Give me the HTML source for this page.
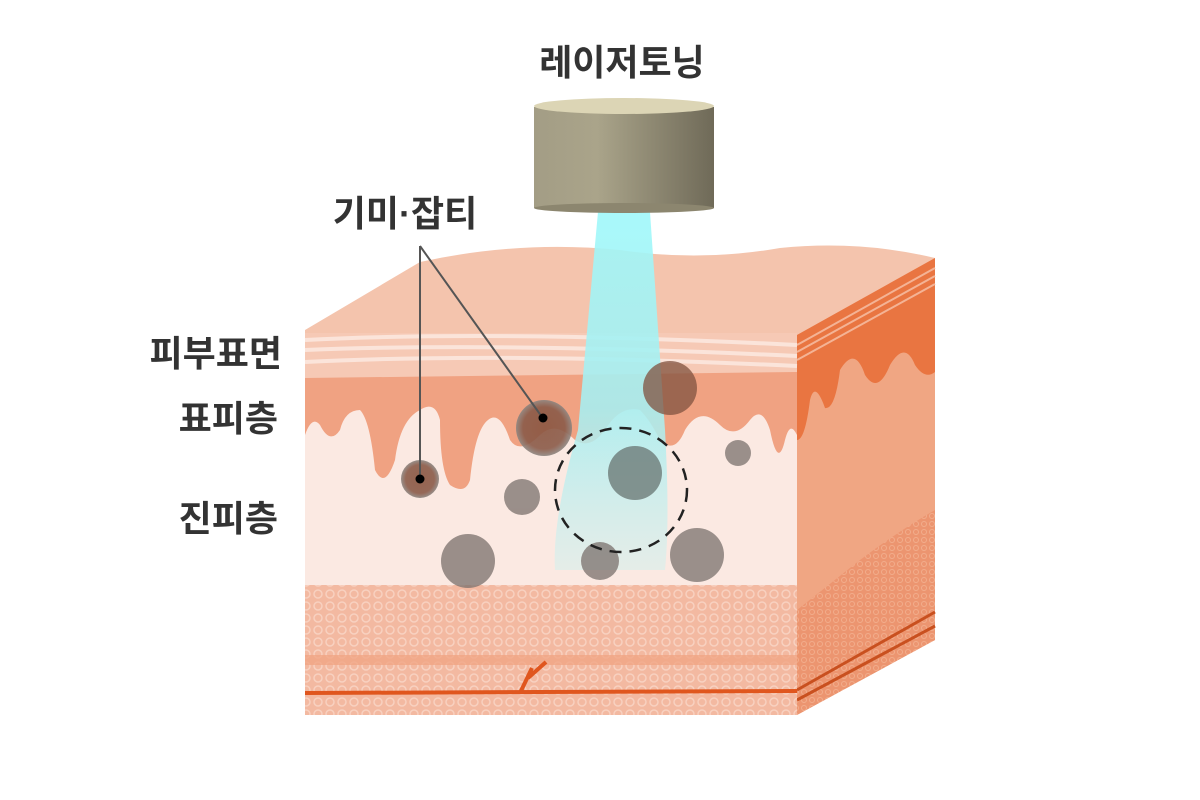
<!DOCTYPE html>
<html><head><meta charset="utf-8"><style>
body{margin:0;background:#fff;width:1200px;height:800px;overflow:hidden}
svg{display:block}
text{font-family:"Liberation Sans","Noto Sans CJK KR",sans-serif;font-weight:bold;fill:#333;font-size:36px}
</style></head><body>
<svg width="1200" height="800" viewBox="0 0 1200 800">
<defs>
<linearGradient id="cyl" x1="0" x2="1"><stop offset="0" stop-color="#a39d85"/><stop offset="0.35" stop-color="#aaa48a"/><stop offset="1" stop-color="#6f6a58"/></linearGradient>
<linearGradient id="beam" x1="0" y1="0" x2="0" y2="1"><stop offset="0" stop-color="#9ff8fa"/><stop offset="0.55" stop-color="#a8eef0"/><stop offset="1" stop-color="#d8efec" stop-opacity="0.7"/></linearGradient>
<pattern id="pat" width="12" height="12" patternUnits="userSpaceOnUse"><rect width="12" height="12" fill="#f3b9a1"/><circle cx="6" cy="6" r="4" fill="none" stroke="#f8d1c0" stroke-width="1.5"/></pattern>
<pattern id="pat2" width="8" height="8" patternUnits="userSpaceOnUse"><rect width="8" height="8" fill="#ec9570"/><circle cx="4" cy="4" r="2.5" fill="none" stroke="#f2ad8c" stroke-width="1"/></pattern>
<radialGradient id="spot"><stop offset="0" stop-color="#8a5540"/><stop offset="0.75" stop-color="#8a5a48"/><stop offset="1" stop-color="#8d8580"/></radialGradient>
</defs>
<!-- labels -->
<text x="622" y="75" text-anchor="middle">레이저토닝</text>
<text x="405" y="226" text-anchor="middle">기미·잡티</text>
<text x="282" y="366" text-anchor="end">피부표면</text>
<text x="278" y="431" text-anchor="end">표피층</text>
<text x="278" y="531" text-anchor="end">진피층</text>
<!-- top surface -->
<path d="M305 330 L420 262 Q520 240 620 250 Q700 262 780 248 Q860 240 935 258 L935 300 L797 335 L305 335 Z" fill="#f4c4ad"/>
<!-- right face -->
<path d="M797 335 L935 258 L935 640 L797 715 Z" fill="#f0a683"/>
<path d="M797 335 L935 258 L935 300 L935 372 Q925 380 915 365 Q905 340 890 365 Q878 395 865 375 Q855 345 840 370 Q835 410 825 408 Q815 380 810 400 Q805 440 797 440 Z" fill="#e97541"/>
<path d="M797 345 L935 268 M797 352 L935 276 M797 360 L935 284" stroke="#f4b395" stroke-width="2" fill="none"/>
<path d="M797 610 L860 560 Q900 530 935 510 L935 640 L797 715 Z" fill="url(#pat2)"/>
<path d="M797 690 L935 612 M797 700 L935 626" stroke="#c9501f" stroke-width="3" fill="none"/>
<!-- front face -->
<rect x="305" y="333" width="492" height="382" fill="#fbe9e2"/>
<rect x="305" y="333" width="492" height="45" fill="#f6c9b5"/>
<path d="M305 340 Q500 330 797 345 M305 350 Q500 342 797 356 M305 362 Q500 352 797 366" stroke="#fbe4da" stroke-width="4" fill="none"/>
<path d="M305 378 L797 372 L797 435 Q790 420 785 440 Q778 470 770 430 Q762 405 750 420 Q735 440 720 425 Q700 405 685 430 Q675 455 660 440 Q650 420 640 410 Q620 405 605 430 Q590 450 575 440 Q555 420 540 435 Q520 455 510 440 Q500 410 488 420 Q475 430 470 480 Q465 495 450 485 Q440 470 440 420 Q435 400 420 410 Q400 420 395 460 Q385 490 375 470 Q370 420 360 410 Q345 410 340 430 Q330 445 320 425 Q312 415 305 435 Z" fill="#f0a282"/>
<rect x="305" y="585" width="492" height="130" fill="url(#pat)"/>
<rect x="305" y="655" width="492" height="10" fill="#f0a585" opacity="0.8"/>
<path d="M305 693 L797 691" stroke="#e0561e" stroke-width="4"/>
<path d="M520 693 L532 668 M528 678 L546 662" stroke="#e0561e" stroke-width="4"/>
<!-- beam -->
<path d="M598 212 L650 212 L665 430 Q670 520 665 570 L555 570 Q552 520 578 430 Z" fill="url(#beam)" opacity="0.9"/>
<!-- spots -->
<g fill="#7a706c" opacity="0.75">
<circle cx="522" cy="497" r="18"/><circle cx="468" cy="561" r="27"/><circle cx="600" cy="561" r="19"/><circle cx="697" cy="555" r="27"/><circle cx="738" cy="453" r="13"/>
</g>
<circle cx="635" cy="473" r="27" fill="#6d7a78" opacity="0.8"/>
<circle cx="670" cy="388" r="27" fill="#80523f" opacity="0.75"/>
<circle cx="544" cy="428" r="28" fill="url(#spot)" opacity="0.9"/>
<circle cx="420" cy="479" r="19" fill="url(#spot)" opacity="0.9"/>
<ellipse cx="621" cy="490" rx="66" ry="62" fill="none" stroke="#222" stroke-width="2.5" stroke-dasharray="12 8"/>
<!-- pointer lines -->
<path d="M420 246 L420 478 M420 246 L542 417" stroke="#555" stroke-width="2" fill="none"/>
<circle cx="420" cy="479" r="4.5" fill="#000"/><circle cx="543" cy="418" r="4.5" fill="#000"/>
<!-- cylinder -->
<rect x="534" y="107" width="180" height="101" fill="url(#cyl)"/>
<ellipse cx="624" cy="208" rx="90" ry="5" fill="#8c866f"/>
<ellipse cx="624" cy="106" rx="90" ry="8" fill="#dcd5b5"/>
</svg>
</body></html>
